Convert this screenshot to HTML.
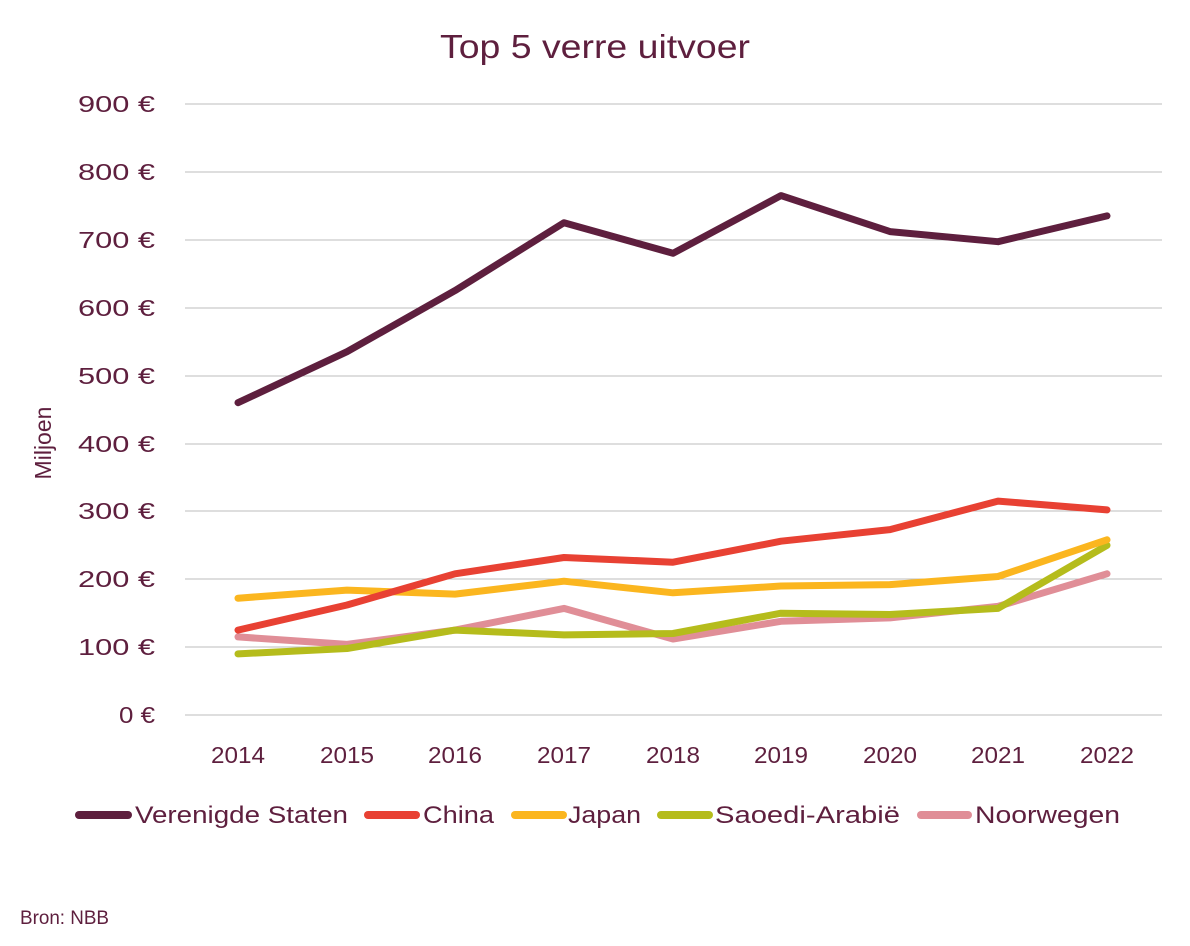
<!DOCTYPE html>
<html><head><meta charset="utf-8"><style>
html,body{margin:0;padding:0;background:#fff;}
svg{display:block;font-family:"Liberation Sans",sans-serif;}
</style></head><body>
<svg width="1190" height="946" viewBox="0 0 1190 946" xmlns="http://www.w3.org/2000/svg">
<rect width="1190" height="946" fill="#fff"/>
<text x="440" y="58" font-size="33" fill="#5e1f3e" textLength="310" lengthAdjust="spacingAndGlyphs">Top 5 verre uitvoer</text>
<g stroke="#bdbdbd" stroke-width="1">
<line x1="185" x2="1162" y1="104" y2="104"/><line x1="185" x2="1162" y1="172" y2="172"/>
<line x1="185" x2="1162" y1="240" y2="240"/><line x1="185" x2="1162" y1="308" y2="308"/>
<line x1="185" x2="1162" y1="376" y2="376"/><line x1="185" x2="1162" y1="444" y2="444"/>
<line x1="185" x2="1162" y1="511" y2="511"/><line x1="185" x2="1162" y1="579" y2="579"/>
<line x1="185" x2="1162" y1="647" y2="647"/><line x1="185" x2="1162" y1="715" y2="715"/>
</g>
<g font-size="23" fill="#5e1f3e">
<text x="78" y="112" textLength="77" lengthAdjust="spacingAndGlyphs">900 €</text>
<text x="78" y="180" textLength="77" lengthAdjust="spacingAndGlyphs">800 €</text>
<text x="78" y="248" textLength="77" lengthAdjust="spacingAndGlyphs">700 €</text>
<text x="78" y="316" textLength="77" lengthAdjust="spacingAndGlyphs">600 €</text>
<text x="78" y="384" textLength="77" lengthAdjust="spacingAndGlyphs">500 €</text>
<text x="78" y="452" textLength="77" lengthAdjust="spacingAndGlyphs">400 €</text>
<text x="78" y="519" textLength="77" lengthAdjust="spacingAndGlyphs">300 €</text>
<text x="78" y="587" textLength="77" lengthAdjust="spacingAndGlyphs">200 €</text>
<text x="78" y="655" textLength="77" lengthAdjust="spacingAndGlyphs">100 €</text>
<text x="119" y="723" textLength="36" lengthAdjust="spacingAndGlyphs">0 €</text>
</g>
<g font-size="23" fill="#5e1f3e">
<text x="211" y="763" textLength="54" lengthAdjust="spacingAndGlyphs">2014</text>
<text x="320" y="763" textLength="54" lengthAdjust="spacingAndGlyphs">2015</text>
<text x="428" y="763" textLength="54" lengthAdjust="spacingAndGlyphs">2016</text>
<text x="537" y="763" textLength="54" lengthAdjust="spacingAndGlyphs">2017</text>
<text x="646" y="763" textLength="54" lengthAdjust="spacingAndGlyphs">2018</text>
<text x="754" y="763" textLength="54" lengthAdjust="spacingAndGlyphs">2019</text>
<text x="863" y="763" textLength="54" lengthAdjust="spacingAndGlyphs">2020</text>
<text x="971" y="763" textLength="54" lengthAdjust="spacingAndGlyphs">2021</text>
<text x="1080" y="763" textLength="54" lengthAdjust="spacingAndGlyphs">2022</text>
</g>
<text transform="translate(51,443) rotate(-90)" font-size="23" fill="#5e1f3e" text-anchor="middle">Miljoen</text>
<g fill="none" stroke-width="7" stroke-linejoin="round" stroke-linecap="round">
<polyline stroke="#e08e97" points="238,636.9 347,644.4 455,630.1 564,608.4 673,639 781,621.3 890,617.9 998,606.4 1107,573.8"/>
<polyline stroke="#b5bc1c" points="238,653.9 347,648.5 455,630.1 564,634.9 673,633.5 781,613.2 890,614.5 998,608.4 1107,545.3"/>
<polyline stroke="#fbb61f" points="238,598.2 347,590.1 455,594.1 564,581.2 673,592.8 781,586 890,584.6 998,576.5 1107,539.8"/>
<polyline stroke="#e84133" points="238,630.1 347,605 455,573.8 564,557.5 673,562.2 781,541.2 890,529.6 998,501.1 1107,509.9"/>
<polyline stroke="#5e1f3e" points="238,402.7 347,351.7 455,290.6 564,222.7 673,253.3 781,195.6 890,231.6 998,241.7 1107,215.9"/>
</g>
<g stroke-width="8" stroke-linecap="round">
<line x1="79" x2="128" y1="815" y2="815" stroke="#5e1f3e"/>
<line x1="368" x2="416" y1="815" y2="815" stroke="#e84133"/>
<line x1="515" x2="563" y1="815" y2="815" stroke="#fbb61f"/>
<line x1="661" x2="709" y1="815" y2="815" stroke="#b5bc1c"/>
<line x1="921" x2="968" y1="815" y2="815" stroke="#e08e97"/>
</g>
<g font-size="24" fill="#5e1f3e">
<text x="135" y="823" textLength="213" lengthAdjust="spacingAndGlyphs">Verenigde Staten</text>
<text x="423" y="823" textLength="71" lengthAdjust="spacingAndGlyphs">China</text>
<text x="568" y="823" textLength="73" lengthAdjust="spacingAndGlyphs">Japan</text>
<text x="715" y="823" textLength="185" lengthAdjust="spacingAndGlyphs">Saoedi-Arabië</text>
<text x="975" y="823" textLength="145" lengthAdjust="spacingAndGlyphs">Noorwegen</text>
</g>
<text x="20" y="924" font-size="19" fill="#5e1f3e" textLength="89" lengthAdjust="spacingAndGlyphs">Bron: NBB</text>
</svg>
</body></html>
